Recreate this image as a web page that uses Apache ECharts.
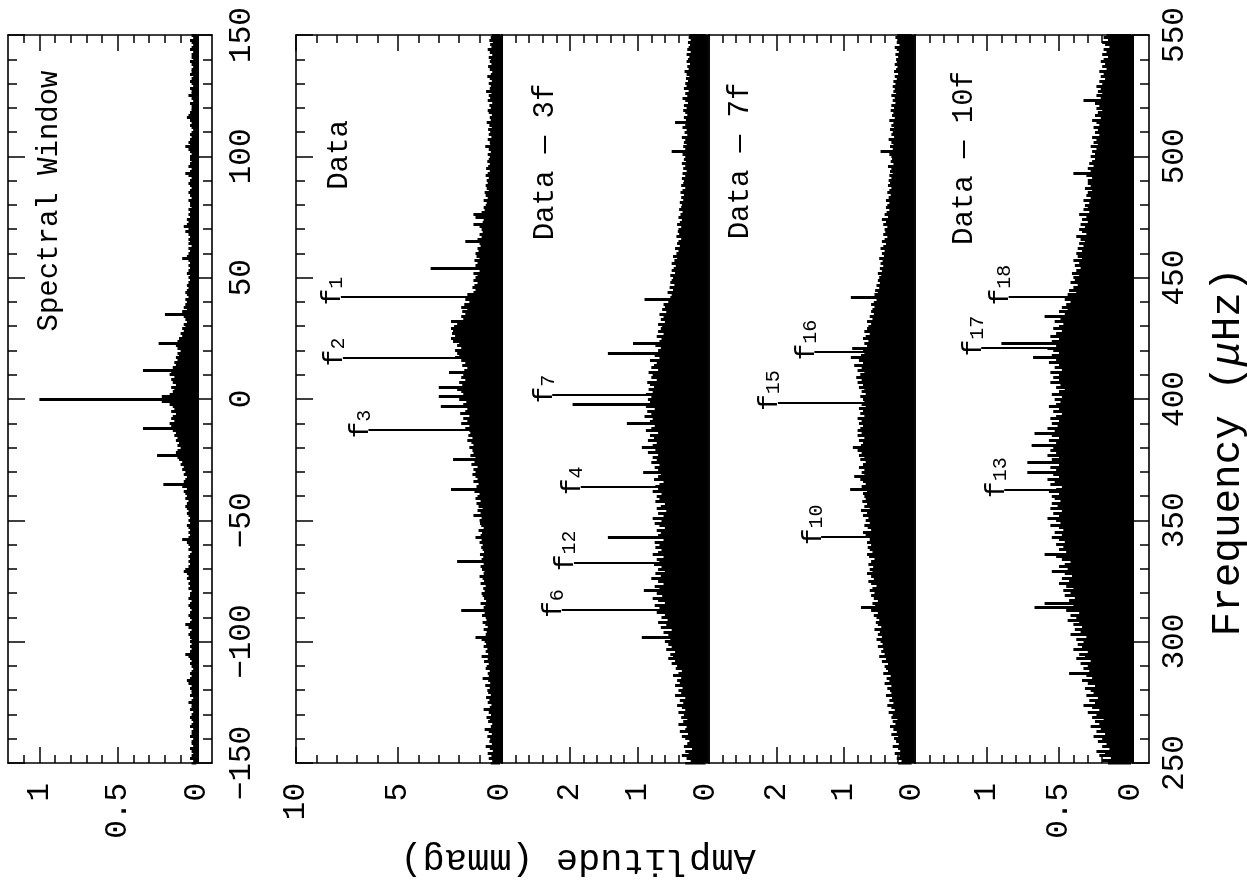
<!DOCTYPE html>
<html><head><meta charset="utf-8">
<script src="https://cdn.jsdelivr.net/npm/echarts@6/dist/echarts.min.js"></script>
<style>html,body{margin:0;padding:0;background:#fff}#c{width:1247px;height:891px}</style>
</head><body><div id="c"></div>
<script>
// ---------------- DATA ----------------
// Spectral window: amplitude (relative) at 1 µHz steps from -150 to 150 µHz
const swFreqStart = -150;
const swAmp = [
 0.03,0.02,0.04,0.03,0.02,0.03,0.04,0.02,0.03,0.03,
 0.02,0.04,0.03,0.03,0.02,0.04,0.03,0.02,0.03,0.04,
 0.03,0.02,0.04,0.03,0.03,0.05,0.03,0.02,0.04,0.03,
 0.03,0.04,0.03,0.05,0.06,0.04,0.03,0.04,0.03,0.02,
 0.03,0.04,0.03,0.04,0.05,0.07,0.04,0.03,0.04,0.03,
 0.04,0.03,0.04,0.05,0.04,0.03,0.05,0.07,0.04,0.03,
 0.04,0.05,0.04,0.03,0.04,0.05,0.04,0.03,0.05,0.04,
 0.04,0.03,0.05,0.04,0.05,0.04,0.06,0.05,0.06,0.08,
 0.07,0.05,0.04,0.05,0.04,0.05,0.04,0.03,0.05,0.04,
 0.05,0.06,0.09,0.05,0.04,0.05,0.04,0.05,0.06,0.04,
 0.05,0.04,0.05,0.06,0.05,0.06,0.07,0.06,0.05,0.07,
 0.06,0.07,0.08,0.06,0.09,0.21,0.08,0.07,0.06,0.08,
 0.07,0.09,0.08,0.10,0.09,0.11,0.12,0.25,0.13,0.12,
 0.10,0.12,0.11,0.13,0.12,0.14,0.13,0.15,0.34,0.16,
 0.17,0.14,0.16,0.15,0.13,0.16,0.14,0.15,0.17,0.22,
 1.00,
 0.22,0.17,0.15,0.14,0.16,0.13,0.15,0.16,0.14,0.17,
 0.16,0.34,0.15,0.13,0.14,0.12,0.13,0.11,0.12,0.10,
 0.12,0.13,0.24,0.12,0.11,0.09,0.10,0.08,0.09,0.07,
 0.08,0.06,0.07,0.08,0.20,0.09,0.06,0.08,0.07,0.06,
 0.07,0.05,0.06,0.07,0.06,0.05,0.06,0.05,0.04,0.05,
 0.04,0.06,0.05,0.04,0.05,0.04,0.05,0.09,0.06,0.05,
 0.04,0.05,0.03,0.05,0.04,0.05,0.04,0.05,0.07,0.05,
 0.08,0.06,0.05,0.06,0.04,0.05,0.04,0.05,0.03,0.04,
 0.04,0.05,0.03,0.04,0.05,0.04,0.03,0.04,0.05,0.04,
 0.03,0.05,0.07,0.04,0.03,0.05,0.04,0.03,0.04,0.04,
 0.03,0.04,0.05,0.07,0.04,0.05,0.04,0.03,0.04,0.03,
 0.02,0.03,0.04,0.03,0.04,0.06,0.05,0.04,0.03,0.03,
 0.03,0.04,0.02,0.03,0.05,0.03,0.03,0.04,0.02,0.03,
 0.04,0.03,0.02,0.04,0.03,0.03,0.02,0.03,0.04,0.02,
 0.03,0.03,0.02,0.04,0.03,0.02,0.03,0.04,0.02,0.03
];

// Amplitude spectra (mmag) at 1 µHz steps from 250 to 550 µHz
const mainFreqStart = 250;
const dataAmp = [
 0.45,0.38,0.55,0.42,0.6,0.35,0.5,0.7,0.4,0.52,
 0.48,0.62,0.4,0.55,0.75,0.45,0.38,0.58,0.5,0.66,
 0.44,0.55,0.8,0.5,0.42,0.6,0.52,0.68,0.45,0.58,
 0.62,0.5,0.72,0.48,0.58,0.85,0.55,0.6,0.5,0.7,
 0.65,0.55,0.78,0.6,0.9,0.58,0.7,0.62,0.8,0.68,
 0.75,0.9,1.2,0.7,0.65,0.8,0.6,0.72,0.85,0.66,
 0.7,0.88,0.75,1.9,0.8,0.72,0.95,0.68,0.78,0.85,
 0.9,0.75,0.82,0.7,0.95,0.78,0.85,1.0,0.8,0.76,
 0.88,0.95,0.8,2.1,0.9,0.82,0.98,0.78,0.85,0.92,
 0.85,1.0,0.9,1.2,0.95,0.88,1.05,0.8,0.92,0.98,
 1.0,0.9,1.3,0.95,1.1,0.85,1.05,1.15,0.95,1.2,
 1.1,1.0,1.25,2.4,1.15,1.05,1.3,1.1,1.2,1.35,
 1.2,1.3,1.1,1.4,1.25,2.3,1.2,1.45,1.3,1.35,
 1.5,1.3,1.4,1.6,1.35,1.55,1.45,1.5,1.7,1.5,
 1.9,1.6,1.8,1.5,1.95,1.7,1.6,2.9,1.8,1.65,
 2.0,3.0,1.8,1.9,2.1,3.0,1.85,2.0,1.7,1.9,
 1.8,2.5,1.75,1.6,1.85,1.7,1.9,2.2,2.0,2.1,
 2.2,1.9,2.1,2.0,2.3,2.4,2.2,2.35,2.3,2.4,
 2.25,2.1,2.4,1.8,1.9,1.7,1.85,1.6,1.9,1.75,
 1.5,1.7,1.4,1.6,1.3,1.2,1.35,1.25,1.1,1.3,
 1.2,1.1,1.3,1.0,3.4,1.2,1.1,1.25,1.0,1.15,
 1.2,1.05,1.1,0.95,1.0,1.7,1.1,0.9,1.0,0.85,
 0.9,1.0,1.3,0.85,0.8,1.2,1.3,0.9,0.75,0.8,
 0.7,0.65,0.8,0.6,0.7,0.75,0.55,0.65,0.7,0.6,
 0.65,0.55,0.7,0.6,0.5,0.68,0.58,0.5,0.62,0.55,
 0.5,0.6,0.45,0.55,0.72,0.48,0.5,0.6,0.42,0.55,
 0.48,0.58,0.4,0.52,0.65,0.45,0.5,0.4,0.55,0.6,
 0.45,0.52,0.38,0.6,0.48,0.55,0.42,0.68,0.5,0.45,
 0.55,0.4,0.5,0.62,0.45,0.38,0.5,0.58,0.42,0.5,
 0.45,0.55,0.38,0.5,0.6,0.42,0.48,0.35,0.52,0.45,
 0.4
];
const res3Amp = [
 0.3,0.22,0.28,0.35,0.25,0.3,0.2,0.32,0.27,0.24,
 0.3,0.35,0.26,0.38,0.3,0.28,0.4,0.33,0.27,0.36,
 0.32,0.4,0.3,0.35,0.42,0.33,0.38,0.3,0.45,0.36,
 0.4,0.34,0.45,0.38,0.42,0.36,0.48,0.4,0.35,0.44,
 0.42,0.5,0.45,0.55,0.48,0.52,0.45,0.58,0.5,0.55,
 0.6,0.52,0.94,0.55,0.62,0.5,0.66,0.58,0.7,0.56,
 0.65,0.6,0.72,0.62,0.68,0.75,0.6,0.7,0.78,0.64,
 0.72,0.91,0.68,0.75,0.62,0.7,0.8,0.66,0.74,0.6,
 0.7,0.65,0.76,0.68,0.72,0.62,0.78,0.7,0.65,0.74,
 0.68,0.75,0.62,1.44,0.7,0.66,0.72,0.6,0.68,0.75,
 0.65,0.78,0.62,0.7,0.58,0.72,0.66,0.6,0.74,0.68,
 0.72,0.65,0.78,0.7,0.74,0.68,0.62,0.76,0.7,0.66,
 0.92,0.7,0.75,0.68,0.8,0.72,0.78,0.7,0.85,0.74,
 0.94,0.78,0.72,0.85,0.76,0.82,0.7,0.88,0.8,0.75,
 1.16,0.82,0.78,0.9,0.8,0.86,0.75,0.88,1.96,0.82,
 0.85,0.8,0.88,0.78,0.84,0.76,0.82,0.86,0.72,0.8,
 0.78,0.84,0.7,0.8,0.76,0.72,0.82,0.68,0.75,1.44,
 0.7,0.66,0.74,1.07,0.68,0.65,0.72,0.62,0.7,0.66,
 0.64,0.7,0.6,0.66,0.62,0.68,0.58,0.64,0.6,0.62,
 0.55,0.9,0.52,0.5,0.56,0.48,0.53,0.46,0.52,0.5,
 0.48,0.52,0.45,0.5,0.47,0.44,0.5,0.46,0.42,0.48,
 0.43,0.4,0.45,0.38,0.42,0.4,0.36,0.43,0.39,0.41,
 0.4,0.36,0.42,0.38,0.35,0.4,0.37,0.34,0.39,0.36,
 0.35,0.38,0.33,0.36,0.32,0.37,0.34,0.3,0.36,0.33,
 0.32,0.35,0.3,0.34,0.28,0.33,0.3,0.35,0.29,0.32,
 0.3,0.34,0.5,0.3,0.33,0.28,0.32,0.3,0.35,0.27,
 0.31,0.28,0.34,0.3,0.45,0.29,0.32,0.27,0.3,0.33,
 0.28,0.32,0.26,0.3,0.34,0.27,0.3,0.25,0.32,0.28,
 0.3,0.26,0.29,0.24,0.28,0.31,0.25,0.27,0.23,0.28,
 0.26,0.24,0.28,0.22,0.27,0.25,0.23,0.26,0.22,0.25,
 0.24
];
const res7Amp = [
 0.2,0.15,0.22,0.18,0.25,0.17,0.2,0.28,0.19,0.23,
 0.26,0.2,0.3,0.22,0.27,0.32,0.24,0.28,0.21,0.3,
 0.28,0.34,0.25,0.3,0.36,0.27,0.33,0.29,0.38,0.3,
 0.32,0.36,0.3,0.4,0.33,0.37,0.31,0.42,0.35,0.38,
 0.4,0.35,0.44,0.38,0.48,0.4,0.45,0.42,0.5,0.43,
 0.46,0.52,0.44,0.5,0.47,0.55,0.45,0.5,0.53,0.48,
 0.52,0.56,0.5,0.6,0.75,0.54,0.58,0.5,0.56,0.6,
 0.55,0.62,0.58,0.52,0.6,0.64,0.56,0.6,0.66,0.58,
 0.62,0.57,0.64,0.6,0.55,0.63,0.66,0.58,0.62,0.65,
 0.6,0.66,0.62,0.58,0.68,0.72,0.6,0.65,0.7,0.62,
 0.68,0.64,0.72,0.66,0.75,0.62,0.7,0.66,0.73,0.68,
 0.7,0.72,0.66,0.91,0.74,0.68,0.72,0.76,0.85,0.7,
 0.74,0.7,0.78,0.72,0.68,0.76,0.7,0.78,0.74,0.8,
 0.87,0.75,0.72,0.78,0.7,0.8,0.74,0.8,0.76,0.72,
 0.78,0.74,0.8,0.7,0.76,0.72,0.78,0.68,0.74,0.7,
 0.72,0.76,0.68,0.74,0.7,0.78,0.72,0.8,0.74,0.82,
 0.76,0.7,0.8,0.74,0.85,0.72,0.78,0.9,0.75,0.7,
 0.72,0.88,0.66,0.7,0.64,0.72,0.68,0.62,0.7,0.66,
 0.64,0.6,0.66,0.58,0.62,0.56,0.6,0.58,0.55,0.6,
 0.56,0.52,0.9,0.55,0.5,0.54,0.48,0.52,0.47,0.5,
 0.48,0.45,0.5,0.44,0.47,0.42,0.46,0.43,0.48,0.41,
 0.44,0.4,0.46,0.42,0.38,0.44,0.4,0.36,0.42,0.39,
 0.4,0.36,0.42,0.38,0.44,0.35,0.4,0.37,0.33,0.38,
 0.36,0.33,0.38,0.34,0.31,0.36,0.33,0.3,0.35,0.32,
 0.34,0.3,0.33,0.28,0.32,0.3,0.35,0.27,0.31,0.29,
 0.3,0.33,0.46,0.28,0.32,0.27,0.3,0.34,0.26,0.3,
 0.28,0.32,0.26,0.3,0.27,0.33,0.25,0.29,0.27,0.31,
 0.26,0.3,0.24,0.28,0.25,0.3,0.23,0.27,0.25,0.28,
 0.24,0.27,0.22,0.25,0.2,0.26,0.23,0.21,0.25,0.22,
 0.23,0.2,0.24,0.19,0.22,0.25,0.18,0.22,0.2,0.24,
 0.21
];
const res10Amp = [
 0.16,0.2,0.14,0.22,0.18,0.24,0.15,0.2,0.17,0.23,
 0.2,0.26,0.18,0.24,0.21,0.28,0.22,0.25,0.19,0.27,
 0.24,0.3,0.22,0.27,0.33,0.25,0.29,0.23,0.31,0.26,
 0.28,0.32,0.25,0.3,0.34,0.27,0.31,0.43,0.29,0.33,
 0.3,0.35,0.28,0.38,0.32,0.36,0.3,0.4,0.34,0.37,
 0.33,0.38,0.31,0.42,0.35,0.39,0.34,0.4,0.36,0.44,
 0.38,0.42,0.36,0.45,0.67,0.4,0.6,0.43,0.39,0.46,
 0.42,0.47,0.4,0.45,0.5,0.43,0.48,0.41,0.46,0.55,
 0.44,0.5,0.46,0.42,0.48,0.52,0.6,0.45,0.5,0.47,
 0.52,0.46,0.5,0.55,0.48,0.53,0.47,0.5,0.56,0.49,
 0.52,0.58,0.5,0.54,0.48,0.56,0.51,0.55,0.49,0.53,
 0.55,0.5,0.57,0.52,0.48,0.56,0.53,0.58,0.5,0.54,
 0.72,0.52,0.56,0.5,0.72,0.55,0.5,0.58,0.52,0.56,
 0.54,0.69,0.52,0.57,0.5,0.55,0.67,0.53,0.58,0.51,
 0.55,0.5,0.56,0.52,0.48,0.54,0.5,0.57,0.52,0.49,
 0.53,0.48,0.55,0.5,0.46,0.52,0.49,0.56,0.5,0.54,
 0.5,0.56,0.48,0.53,0.5,0.57,0.52,0.68,0.55,0.5,
 0.54,0.58,0.52,0.9,0.55,0.5,0.56,0.52,0.48,0.54,
 0.5,0.47,0.53,0.49,0.6,0.46,0.5,0.44,0.48,0.45,
 0.42,0.46,0.4,0.44,0.38,0.43,0.4,0.37,0.42,0.39,
 0.4,0.36,0.41,0.38,0.35,0.39,0.36,0.4,0.34,0.37,
 0.38,0.34,0.37,0.33,0.36,0.32,0.35,0.38,0.31,0.34,
 0.36,0.32,0.35,0.3,0.34,0.31,0.36,0.29,0.33,0.3,
 0.32,0.29,0.33,0.28,0.31,0.3,0.27,0.32,0.28,0.3,
 0.3,0.27,0.31,0.4,0.28,0.3,0.26,0.29,0.27,0.25,
 0.28,0.25,0.27,0.24,0.28,0.23,0.26,0.24,0.27,0.22,
 0.25,0.23,0.26,0.22,0.24,0.27,0.21,0.25,0.23,0.2,
 0.24,0.22,0.25,0.33,0.21,0.24,0.2,0.23,0.21,0.24,
 0.2,0.22,0.18,0.21,0.19,0.22,0.17,0.2,0.18,0.21,
 0.19,0.16,0.2,0.17,0.19,0.15,0.18,0.2,0.16,0.19,
 0.17
];

// Identified frequencies (µHz), their amplitudes (mmag) and subscripts
const dataPeakFreq = [442.0, 416.9, 387.2];
const dataPeakAmp  = [7.8, 7.7, 6.45];
const dataPeakName = ['1', '2', '3'];
const res3PeakFreq = [401.6, 363.8, 332.5, 313.2];
const res3PeakAmp  = [2.26, 1.84, 1.94, 2.12];
const res3PeakName = ['7', '4', '12', '6'];
const res7PeakFreq = [419.3, 398.5, 343.2];
const res7PeakAmp  = [1.44, 1.98, 1.34];
const res7PeakName = ['16', '15', '10'];
const res10PeakFreq = [442.0, 421.0, 362.6];
const res10PeakAmp  = [0.85, 1.04, 0.88];
const res10PeakName = ['18', '17', '13'];

// Tick values
const swAmpMajor = [0, 0.5, 1];
const swAmpMinor = [0.1, 0.2, 0.3, 0.4, 0.6, 0.7, 0.8, 0.9, 1.1];
const dataAmpMajor = [0, 5, 10];
const dataAmpMinor = [1, 2, 3, 4, 6, 7, 8, 9];
const resAmpMajor = [0, 1, 2];
const resAmpMinor = [0.2, 0.4, 0.6, 0.8, 1.2, 1.4, 1.6, 1.8, 2.2, 2.4, 2.6, 2.8];
const res10AmpMajor = [0, 0.5, 1];
const res10AmpMinor = [0.1, 0.2, 0.3, 0.4, 0.6, 0.7, 0.8, 0.9, 1.1, 1.2, 1.3, 1.4];

const panelTitles = ['Spectral Window', 'Data', 'Data \u2014 3f', 'Data \u2014 7f', 'Data \u2014 10f'];
const ampAxisName = 'Amplitude (mmag)';

// ---------------- LAYOUT / STYLE ----------------
const FONT = '"Liberation Mono", "DejaVu Sans Mono", monospace';
const BLACK = '#000';
const TOP = 35, HEIGHT = 728;

const panels = [
  {left: 8,   width: 204, amp: [-0.1, 1.2],   major: swAmpMajor,   minor: swAmpMinor,   freq: [-150, 150],
   spec: swAmp, start: swFreqStart, lTicks: true, rTicks: true, rLabels: true, rMargin: 14},
  {left: 296, width: 206, amp: [-0.1, 10],    major: dataAmpMajor, minor: dataAmpMinor, freq: [250, 550],
   spec: dataAmp, start: mainFreqStart, lTicks: true, rTicks: false, rLabels: false,
   pf: dataPeakFreq, pa: dataPeakAmp, pn: dataPeakName},
  {left: 502, width: 207, amp: [-0.05, 3],    major: resAmpMajor,  minor: resAmpMinor,  freq: [250, 550],
   spec: res3Amp, start: mainFreqStart, lTicks: false, rTicks: false, rLabels: false,
   pf: res3PeakFreq, pa: res3PeakAmp, pn: res3PeakName},
  {left: 709, width: 206, amp: [-0.05, 3],    major: resAmpMajor,  minor: resAmpMinor,  freq: [250, 550],
   spec: res7Amp, start: mainFreqStart, lTicks: false, rTicks: false, rLabels: false,
   pf: res7PeakFreq, pa: res7PeakAmp, pn: res7PeakName},
  {left: 915, width: 234, amp: [-0.125, 1.5], major: res10AmpMajor, minor: res10AmpMinor, freq: [250, 550],
   spec: res10Amp, start: mainFreqStart, lTicks: false, rTicks: true, rLabels: true, rMargin: 10,
   pf: res10PeakFreq, pa: res10PeakAmp, pn: res10PeakName}
];

const axisLineStyle = {color: BLACK, width: 1.6};
const tickStyle = {color: BLACK, width: 1.5};
const fmtNum = v => String(v).replace('-', '\u2212');

const grids = [], xAxes = [], yAxes = [], series = [];

panels.forEach((p, gi) => {
  grids.push({left: p.left, top: TOP, width: p.width, height: HEIGHT});
  const bx = {gridIndex: gi, type: 'value', inverse: true, min: p.amp[0], max: p.amp[1],
              splitLine: {show: false}};
  const xMajor = xAxes.length;
  ['bottom', 'top'].forEach(pos => {
    xAxes.push(Object.assign({}, bx, {position: pos,
      axisLine: {show: true, onZero: false, lineStyle: axisLineStyle},
      axisTick: {show: true, inside: true, length: 16, customValues: p.major, lineStyle: tickStyle},
      axisLabel: pos === 'bottom'
        ? {show: true, customValues: p.major, rotate: 90, margin: 20, fontSize: 31, fontFamily: FONT,
           color: BLACK, formatter: fmtNum}
        : {show: false}}));
    xAxes.push(Object.assign({}, bx, {position: pos,
      axisLine: {show: false, onZero: false},
      axisTick: {show: true, inside: true, length: 8, customValues: p.minor, lineStyle: tickStyle},
      axisLabel: {show: false}}));
  });
  const by = {gridIndex: gi, type: 'value', min: p.freq[0], max: p.freq[1], interval: 50,
              splitLine: {show: false}};
  const yLeft = yAxes.length;
  yAxes.push(Object.assign({}, by, {position: 'left',
    axisLine: {show: true, onZero: false, lineStyle: axisLineStyle},
    axisTick: {show: p.lTicks, inside: true, length: 17, lineStyle: tickStyle},
    minorTick: {show: p.lTicks, splitNumber: 5, length: 9, lineStyle: tickStyle},
    axisLabel: {show: false}}));
  yAxes.push(Object.assign({}, by, {position: 'right',
    axisLine: {show: true, onZero: false, lineStyle: axisLineStyle},
    axisTick: {show: p.rTicks, inside: true, length: 17, lineStyle: tickStyle},
    minorTick: {show: p.rTicks, splitNumber: 5, length: 9, lineStyle: tickStyle},
    axisLabel: {show: p.rLabels, rotate: 90, margin: p.rMargin || 10, fontSize: 31, fontFamily: FONT,
                color: BLACK, formatter: fmtNum}}));

  // spectrum: one stroke per 1 µHz frequency bin, from zero to the amplitude
  series.push({type: 'lines', coordinateSystem: 'cartesian2d', xAxisIndex: xMajor, yAxisIndex: yLeft,
    silent: true, z: 3, lineStyle: {color: BLACK, width: 3.1, opacity: 1},
    data: p.spec.map((a, i) => ({coords: [[0, p.start + i], [a, p.start + i]]}))});
  // zero line of the periodogram (drawn heavy, as in the original plot)
  series.push({type: 'lines', coordinateSystem: 'cartesian2d', xAxisIndex: xMajor, yAxisIndex: yLeft,
    silent: true, z: 3, lineStyle: {color: BLACK, width: 5, opacity: 1},
    data: [{coords: [[0, p.freq[0]], [0, p.freq[1]]]}]});

  if (p.pf) {
    series.push({type: 'lines', coordinateSystem: 'cartesian2d', xAxisIndex: xMajor, yAxisIndex: yLeft,
      silent: true, z: 4, lineStyle: {color: BLACK, width: 2, opacity: 1},
      data: p.pf.map((f, k) => ({coords: [[0, f], [p.pa[k], f]]}))});
    series.push({type: 'scatter', xAxisIndex: xMajor, yAxisIndex: yLeft, silent: true, z: 5,
      symbolSize: 0, itemStyle: {opacity: 1, color: BLACK},
      data: p.pf.map((f, k) => [p.pa[k], f, p.pn[k]]),
      label: {show: true, position: 'left', distance: -6, rotate: 90, align: 'center', verticalAlign: 'bottom',
        color: BLACK, opacity: 1,
        formatter: prm => '{p|' + prm.data[2].replace(/./g, ' ') + '}{f|f}{s|' + prm.data[2] + '}',
        rich: {
          p: {fontSize: 20, fontFamily: FONT, color: BLACK, verticalAlign: 'bottom', lineHeight: 20},
          f: {fontSize: 28, fontFamily: FONT, color: BLACK, verticalAlign: 'top', lineHeight: 28},
          s: {fontSize: 20, fontFamily: FONT, color: BLACK, verticalAlign: 'bottom', lineHeight: 20,
              padding: [21, 0, 0, 0]}
        }},
      emphasis: {disabled: true}});
  }
});

const titlePos = [[49, 201], [339, 155], [545, 162], [740, 161], [964, 158]];
const graphic = panelTitles.map((t, i) => ({type: 'text', x: titlePos[i][0], y: titlePos[i][1],
  rotation: Math.PI / 2, silent: true,
  style: {text: t, fontSize: 29, fontFamily: FONT, fill: BLACK, align: 'center', verticalAlign: 'middle',
          textAlign: 'center', textVerticalAlign: 'middle'}}));
graphic.push({type: 'text', x: 1228, y: 452, rotation: Math.PI / 2, silent: true,
  style: {text: '{a|Frequency (}{m|\u03bc}{a|Hz)}', fill: BLACK, align: 'center',
          verticalAlign: 'middle', textAlign: 'center', textVerticalAlign: 'middle',
          rich: {a: {fontSize: 41, fontFamily: FONT, fill: BLACK},
                 m: {fontSize: 41, fontFamily: FONT, fontStyle: 'italic', fill: BLACK}}}});
graphic.push({type: 'text', x: 578, y: 860, rotation: Math.PI, silent: true,
  style: {text: ampAxisName, fontSize: 37, fontFamily: FONT, fill: BLACK, align: 'center',
          verticalAlign: 'middle', textAlign: 'center', textVerticalAlign: 'middle'}});

const chart = echarts.init(document.getElementById('c'), null, {renderer: 'canvas'});
chart.setOption({
  animation: false,
  backgroundColor: '#fff',
  grid: grids, xAxis: xAxes, yAxis: yAxes, series: series, graphic: graphic
});
</script></body></html>
